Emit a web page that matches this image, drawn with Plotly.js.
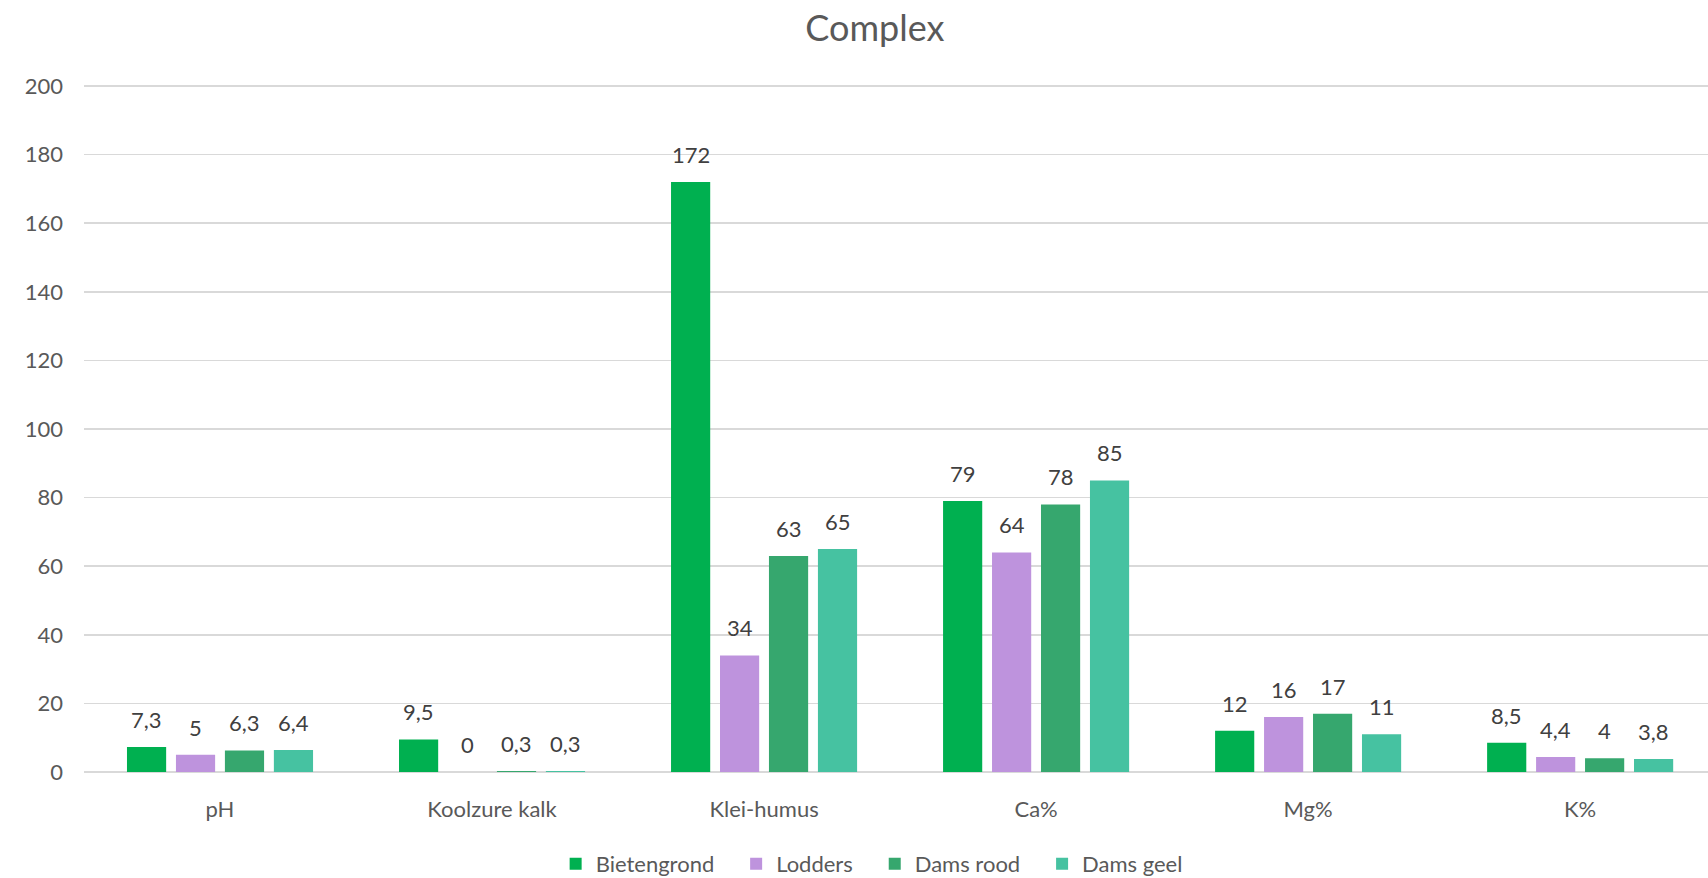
<!DOCTYPE html>
<html><head><meta charset="utf-8">
<script src="https://cdn.plot.ly/plotly-3.0.1.min.js"></script>
<style>html,body{margin:0;padding:0;background:#fff}#chart{width:1708px;height:878px}</style>
</head><body><div id="chart"></div>
<script>
const categories = ["pH", "Koolzure kalk", "Klei-humus", "Ca%", "Mg%", "K%"];
const seriesNames = ["Bietengrond", "Lodders", "Dams rood", "Dams geel"];
const bietengrond = [7.3, 9.5, 172, 79, 12, 8.5];
const lodders = [5, 0, 34, 64, 16, 4.4];
const damsRood = [6.3, 0.3, 63, 78, 17, 4];
const damsGeel = [6.4, 0.3, 65, 85, 11, 3.8];
const yTicks = [0, 20, 40, 60, 80, 100, 120, 140, 160, 180, 200];
const colors = ["#00B050", "#BE93DD", "#36A76E", "#46C2A1"];

const font = "Lato, 'Open Sans', sans-serif";
const allSeries = [bietengrond, lodders, damsRood, damsGeel];
const nbsp = "\u00A0\u00A0\u00A0";
const traces = allSeries.map((vals, i) => ({
  type: "bar",
  name: seriesNames[i] + (i < 3 ? nbsp : ""),
  x: categories,
  y: vals,
  marker: {color: colors[i]},
  hoverinfo: "x+y"
}));

// plot geometry: 1624 px wide for 5.97 categories
const xRange = [-0.5, 5.47];
const catPx = 1624 / (xRange[1] - xRange[0]);
const bargap = 0.28;
const slotPx = catPx * (1 - bargap) / 4;

const annotations = [];
allSeries.forEach((vals, i) => {
  vals.forEach((v, j) => {
    annotations.push({
      x: categories[j], y: v, xref: "x", yref: "y",
      text: String(v).replace(".", ","),
      showarrow: false, yanchor: "bottom", xanchor: "center",
      xshift: (i - 1.5) * slotPx, yshift: 12,
      font: {family: font, size: 22, color: "#404040"}
    });
  });
});

const layout = {
  width: 1708, height: 878,
  margin: {l: 84, r: 0, t: 85, b: 106, autoexpand: false},
  paper_bgcolor: "#fff", plot_bgcolor: "#fff",
  font: {family: font, color: "#595959"},
  title: {text: "Complex", x: 0.487, xref: "paper", xanchor: "center", y: 0.968, yref: "container", yanchor: "middle",
          font: {family: font, size: 36, color: "#595959"}},
  barmode: "group",
  bargap: bargap,
  bargroupgap: 0.2,
  xaxis: {
    type: "category",
    range: xRange,
    showgrid: false, zeroline: false, showline: false,
    ticks: "", ticklabelstandoff: 22,
    tickfont: {family: font, size: 22, color: "#595959"}
  },
  yaxis: {
    range: [0, 200.3],
    tickvals: yTicks,
    showgrid: true, gridcolor: "#D9D9D9", gridwidth: 1.5,
    zeroline: true, zerolinecolor: "#D9D9D9", zerolinewidth: 1.5,
    showline: false, ticks: "", ticklabelstandoff: 20,
    tickfont: {family: font, size: 22, color: "#595959"}
  },
  annotations: annotations,
  showlegend: true,
  legend: {
    orientation: "h", x: 0.485, xanchor: "center", y: -0.134, yanchor: "middle",
    font: {family: font, size: 22, color: "#595959"},
    itemwidth: 30, traceorder: "normal"
  },
  separators: ",."
};

Plotly.newPlot("chart", traces, layout, {displayModeBar: false, staticPlot: true});
</script>
</body></html>
